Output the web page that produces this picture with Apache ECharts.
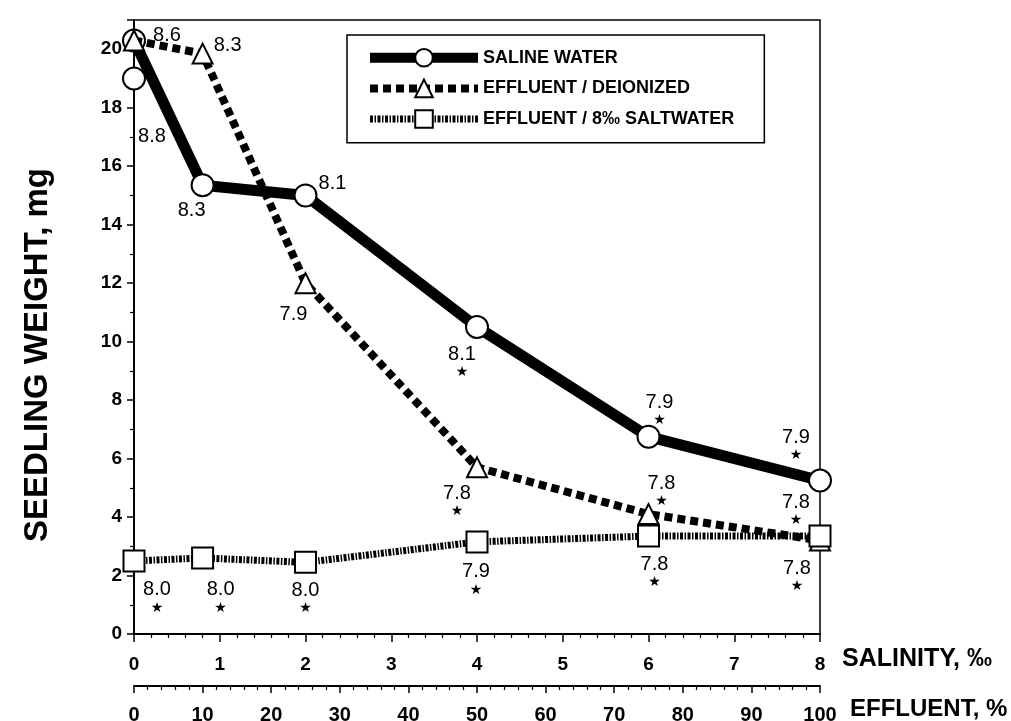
<!DOCTYPE html>
<html>
<head>
<meta charset="utf-8">
<script src="https://cdn.jsdelivr.net/npm/echarts@6/dist/echarts.min.js"></script>
<style>
  html, body { margin: 0; padding: 0; background: #fff; }
  #chart { width: 1011px; height: 721px; }
</style>
</head>
<body>
<div id="chart"></div>
<script>
// salinity (per mil) of each sample; effluent % = salinity / 8 * 100
var salinity = [0, 0.8, 2, 4, 6, 8];

// seedling weight, mg
var salineWater = [20.3, 15.35, 15.0, 10.5, 6.75, 5.25];
var effluentDeionized = [20.3, 19.85, 12.0, 5.7, 4.1, 3.2];
var effluentSaltwater = [2.5, 2.6, 2.45, 3.15, 3.35, 3.35];
var salineExtraX = [0];
var salineExtraY = [19.0];

// pH labels and significance stars
var salineLabels = ['', '8.3', '8.1', '8.1', '7.9', '7.9'];
var salineStars = [0, 0, 0, 1, 1, 1];
var deionLabels = ['8.6', '8.3', '7.9', '7.8', '7.8', '7.8'];
var deionStars = [0, 0, 0, 1, 1, 1];
var saltLabels = ['8.0', '8.0', '8.0', '7.9', '7.8', '7.8'];
var saltStars = [1, 1, 1, 1, 1, 1];
var extraLabels = ['8.8'];
var extraStars = [0];

// label placement (pixels from the marker)
var salineOffsets = [[0, 0], [-11, 25], [27, -12], [-15, 35], [11, -26], [-24, -35]];
var deionOffsets = [[33, -5], [25, -8], [-12, 31], [-20, 34], [13, -23], [-24, -30]];
var saltOffsets = [[23, 37], [18, 40], [0, 36], [-1, 38], [6, 36], [-23, 40]];
var extraOffsets = [[18, 58]];

var FONT = '"Liberation Sans", Arial, sans-serif';

function buildPoints(xs, ys, labels, stars, offsets) {
  var out = [];
  for (var i = 0; i < ys.length; i++) {
    var txt = labels[i];
    out.push({
      value: [xs[i], ys[i]],
      label: {
        show: !!txt,
        position: 'inside',
        offset: offsets[i],
        formatter: stars[i] ? '{n|' + txt + '}\n{s|★}' : '{n|' + txt + '}'
      }
    });
  }
  return out;
}

var labelRich = {
  n: { fontFamily: FONT, fontSize: 20, color: '#000', lineHeight: 20, align: 'center' },
  s: { fontFamily: '"DejaVu Sans", sans-serif', fontSize: 14, color: '#000', lineHeight: 16, align: 'center' }
};

var markerStyle = { color: '#fff', borderColor: '#000', borderWidth: 2, opacity: 1 };
var salineLine = { color: '#000', width: 11 };
var deionLine = { color: '#000', width: 8, type: [8, 5] };
var saltLine = { color: '#000', width: 7, type: [3, 1.5, 1.5, 1.5] };

var chartDom = document.getElementById('chart');
var myChart = echarts.init(chartDom);

var option = {
  backgroundColor: '#fff',
  animation: false,
  grid: {
    left: 134, right: 191, top: 20, bottom: 87,
    outerBoundsMode: 'none',
    show: true, borderColor: '#000', borderWidth: 1.5
  },
  legend: {
    data: [
      { name: 'SALINE WATER', lineStyle: { width: 10 } },
      { name: 'EFFLUENT / DEIONIZED', lineStyle: { width: 8 } },
      { name: 'EFFLUENT / 8‰ SALTWATER', lineStyle: { width: 7 } }
    ],
    orient: 'vertical',
    left: 347, top: 35,
    itemWidth: 108, itemHeight: 22, itemGap: 11,
    padding: [13, 30, 14, 18],
    borderColor: '#000', borderWidth: 1.5,
    backgroundColor: '#fff',
    itemStyle: { borderWidth: 2 },
    textStyle: { fontFamily: FONT, fontSize: 18, fontWeight: 'bold', color: '#000' }
  },
  xAxis: [{
    type: 'value', min: 0, max: 8, interval: 1,
    position: 'bottom',
    name: 'SALINITY, ‰', nameLocation: 'end', nameGap: 22,
    nameTextStyle: { fontFamily: FONT, fontSize: 25, fontWeight: 'bold', color: '#000', verticalAlign: 'top', padding: [13, 0, 0, 0] },
    axisLine: { lineStyle: { color: '#000', width: 2 } },
    axisTick: { length: 8, lineStyle: { color: '#000', width: 1.5 } },
    minorTick: { show: true, splitNumber: 5, length: 4, lineStyle: { color: '#000', width: 1.2 } },
    splitLine: { show: false },
    axisLabel: { fontFamily: FONT, fontSize: 19, fontWeight: 'bold', color: '#000', margin: 21 }
  }, {
    type: 'value', min: 0, max: 100, interval: 10,
    position: 'bottom', offset: 52,
    name: 'EFFLUENT, %', nameLocation: 'end', nameGap: 30,
    nameTextStyle: { fontFamily: FONT, fontSize: 24, fontWeight: 'bold', color: '#000', verticalAlign: 'top', padding: [11, 0, 0, 0] },
    axisLine: { onZero: false, lineStyle: { color: '#000', width: 2 } },
    axisTick: { length: 7, lineStyle: { color: '#000', width: 1.5 } },
    minorTick: { show: true, splitNumber: 5, length: 4, lineStyle: { color: '#000', width: 1.2 } },
    splitLine: { show: false },
    axisLabel: { fontFamily: FONT, fontSize: 20, fontWeight: 'bold', color: '#000', margin: 19 }
  }],
  yAxis: {
    type: 'value', min: 0, max: 21, interval: 2,
    name: 'SEEDLING WEIGHT, mg', nameLocation: 'middle', nameGap: 80,
    nameTextStyle: { fontFamily: FONT, fontSize: 33, fontWeight: 'bold', color: '#000', padding: [0, 56, 0, 0] },
    axisLine: { lineStyle: { color: '#000', width: 2 } },
    axisTick: { length: 7, lineStyle: { color: '#000', width: 1.5 } },
    minorTick: { show: true, splitNumber: 2, length: 4, lineStyle: { color: '#000', width: 1.2 } },
    splitLine: { show: false },
    axisLabel: {
      fontFamily: FONT, fontSize: 19, fontWeight: 'bold', color: '#000', margin: 12,
      formatter: function (v) { return v > 20 ? '' : String(v); }
    }
  },
  series: [
    {
      name: 'SALINE WATER', type: 'line', xAxisIndex: 0,
      data: buildPoints(salinity, salineWater, salineLabels, salineStars, salineOffsets),
      symbol: 'circle', symbolSize: 22,
      itemStyle: markerStyle,
      lineStyle: salineLine,
      label: { rich: labelRich },
      z: 4
    },
    {
      name: 'SALINE WATER', type: 'scatter', xAxisIndex: 0,
      data: buildPoints(salineExtraX, salineExtraY, extraLabels, extraStars, extraOffsets),
      symbol: 'circle', symbolSize: 22,
      itemStyle: markerStyle,
      label: { rich: labelRich },
      z: 4
    },
    {
      name: 'EFFLUENT / DEIONIZED', type: 'line', xAxisIndex: 0,
      data: buildPoints(salinity, effluentDeionized, deionLabels, deionStars, deionOffsets),
      symbol: 'triangle', symbolSize: 20,
      itemStyle: markerStyle,
      lineStyle: deionLine,
      label: { rich: labelRich },
      z: 5
    },
    {
      name: 'EFFLUENT / 8‰ SALTWATER', type: 'line', xAxisIndex: 0,
      data: buildPoints(salinity, effluentSaltwater, saltLabels, saltStars, saltOffsets),
      symbol: 'rect', symbolSize: 21,
      itemStyle: markerStyle,
      lineStyle: saltLine,
      label: { rich: labelRich },
      z: 6
    }
  ]
};

myChart.setOption(option);
</script>
</body>
</html>
